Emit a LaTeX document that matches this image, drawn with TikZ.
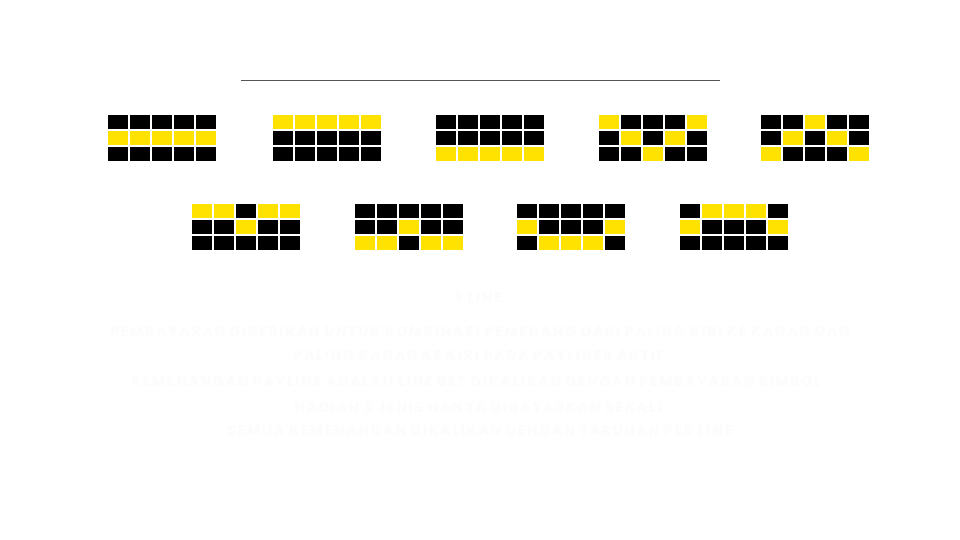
\documentclass[tikz,border=0pt]{standalone}
\usepackage{fontspec}
\setmainfont{Poppins}
\newfontfamily\spaced[LetterSpace=13]{Poppins}
\definecolor{sy}{RGB}{255,226,0}
\definecolor{faint}{RGB}{252,252,252}
\definecolor{rule}{RGB}{85,85,85}
\newcommand{\payline}[4]{%
  \foreach \rr/\pat in {#3} {%
    \foreach \cc [count=\ci from 0] in \pat {%
      \ifnum\cc=1 \def\fillc{sy}\else\def\fillc{black}\fi
      \fill[\fillc] (#1+\ci*22, #2+\rr*16) rectangle ++(20,14);
    }%
  }%
}
\begin{document}
\begin{tikzpicture}[x=1pt,y=-1pt,
  txt/.style={text=faint, font=\spaced\fontsize{14}{16}\selectfont\bfseries, inner sep=0pt, anchor=center}]
\useasboundingbox[fill=white] (0,0) rectangle (960,540);
\draw[rule, line width=1.2pt] (241,80.5) -- (720,80.5);
% top row
\payline{108}{115}{0/{0,0,0,0,0},1/{1,1,1,1,1},2/{0,0,0,0,0}}{}
\payline{273}{115}{0/{1,1,1,1,1},1/{0,0,0,0,0},2/{0,0,0,0,0}}{}
\payline{436}{115}{0/{0,0,0,0,0},1/{0,0,0,0,0},2/{1,1,1,1,1}}{}
\payline{599}{115}{0/{1,0,0,0,1},1/{0,1,0,1,0},2/{0,0,1,0,0}}{}
\payline{761}{115}{0/{0,0,1,0,0},1/{0,1,0,1,0},2/{1,0,0,0,1}}{}
% bottom row
\payline{192}{204}{0/{1,1,0,1,1},1/{0,0,1,0,0},2/{0,0,0,0,0}}{}
\payline{355}{204}{0/{0,0,0,0,0},1/{0,0,1,0,0},2/{1,1,0,1,1}}{}
\payline{517}{204}{0/{0,0,0,0,0},1/{1,0,0,0,1},2/{0,1,1,1,0}}{}
\payline{680}{204}{0/{0,1,1,1,0},1/{1,0,0,0,1},2/{0,0,0,0,0}}{}
% faint text
\node[txt] (t1) at (478,297) {9 LINE};
\node[txt] (t2) at (480,332) {PEMBAYARAN DIBERIKAN UNTUK KOMBINASI PEMENANG DARI PALING KIRI KE KANAN DAN};
\node[txt] (t3) at (479,356) {PALING KANAN KE KIRI PADA PAYLINES AKTIF};
\node[txt] (t4) at (476,382) {KEMENANGAN PAYLINE ADALAH LINE BET DIKALIKAN DENGAN PEMBAYARAN SIMBOL};
\node[txt] (t5) at (478,407) {HADIAH 3 JENIS HANYA DIBAYARKAN SEKALI};
\node[txt] (t6) at (480,431) {SEMUA KEMENANGAN DIKALIKAN DENGAN TARUHAN PER LINE};
\end{tikzpicture}
\end{document}
